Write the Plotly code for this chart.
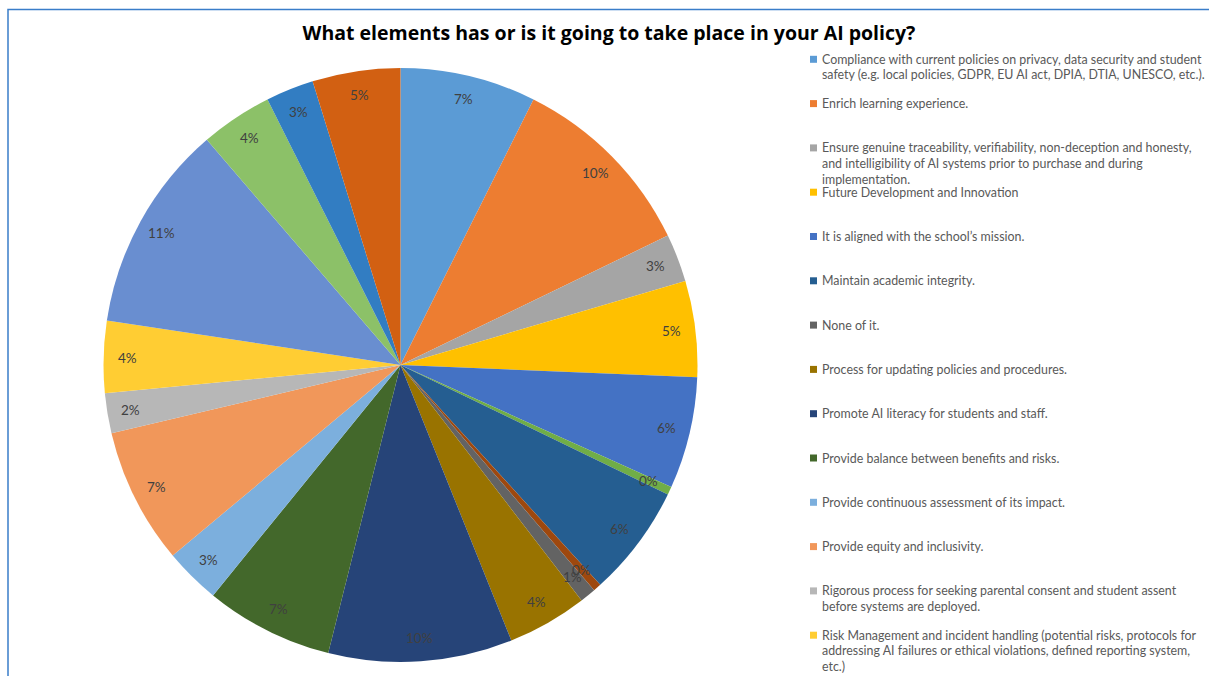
import math
import plotly.graph_objects as go

# Survey responses: elements included (or planned) in the school's AI policy
labels = [
    "Compliance with current policies on privacy, data security and student safety (e.g. local policies, GDPR, EU AI act, DPIA, DTIA, UNESCO, etc.).",
    "Enrich learning experience.",
    "Ensure genuine traceability, verifiability, non-deception and honesty, and intelligibility of AI systems prior to purchase and during implementation.",
    "Future Development and Innovation",
    "It is aligned with the school’s mission.",
    "Other",
    "Maintain academic integrity.",
    "Not sure",
    "None of it.",
    "Process for updating policies and procedures.",
    "Promote AI literacy for students and staff.",
    "Provide balance between benefits and risks.",
    "Provide continuous assessment of its impact.",
    "Provide equity and inclusivity.",
    "Rigorous process for seeking parental consent and student assent before systems are deployed.",
    "Risk Management and incident handling (potential risks, protocols for addressing AI failures or ethical violations, defined reporting system, etc.)",
    "Safeguarding and student wellbeing.",
    "Support and training for teachers.",
    "Transparency with families.",
    "Use of AI tools in assessment.",
]
counts = [17, 24, 6, 12, 14, 1, 14, 1, 2, 10, 23, 16, 7, 17, 5, 9, 26, 9, 6, 11]
colors = [
    "#5B9BD5", "#ED7D31", "#A5A5A5", "#FFC000", "#4472C4", "#70AD47",
    "#255E91", "#9E480E", "#636363", "#997300", "#264478", "#43682B",
    "#7CAFDD", "#F1975A", "#B7B7B7", "#FFCD33", "#698ED0", "#8CC168",
    "#327DC2", "#D26012",
]

# Legend entries that are shown (index into the series) with their wrapped text
legend_items = [0, 1, 2, 3, 4, 6, 8, 9, 10, 11, 12, 13, 14, 15]
legend_text = [
    ["Compliance with current policies on privacy, data security and student",
     "safety (e.g. local policies, GDPR, EU AI act, DPIA, DTIA, UNESCO, etc.)."],
    ["Enrich learning experience."],
    ["Ensure genuine traceability, verifiability, non-deception and honesty,",
     "and intelligibility of AI systems prior to purchase and during",
     "implementation."],
    ["Future Development and Innovation"],
    ["It is aligned with the school’s mission."],
    ["Maintain academic integrity."],
    ["None of it."],
    ["Process for updating policies and procedures."],
    ["Promote AI literacy for students and staff."],
    ["Provide balance between benefits and risks."],
    ["Provide continuous assessment of its impact."],
    ["Provide equity and inclusivity."],
    ["Rigorous process for seeking parental consent and student assent",
     "before systems are deployed."],
    ["Risk Management and incident handling (potential risks, protocols for",
     "addressing AI failures or ethical violations, defined reporting system,",
     "etc.)"],
]

W, H = 1209, 676
FONT = "Lato, 'Open Sans', sans-serif"
TITLE_FONT = "'Open Sans', sans-serif"

total = sum(counts)
pct_text = [f"{round(100 * c / total)}%" for c in counts]

# pie placement (pixels -> paper)
cx, cy, r = 400.5, 365, 297
dom_x = [(cx - r) / W, (cx + r) / W]
dom_y = [1 - (cy + r) / H, 1 - (cy - r) / H]

fig = go.Figure()
fig.add_trace(go.Pie(
    labels=labels, values=counts, sort=False, direction="clockwise",
    rotation=0, marker=dict(colors=colors, line=dict(width=0)),
    textinfo="none", hoverinfo="label+value+percent",
    showlegend=False, domain=dict(x=dom_x, y=dom_y),
))

annotations = []

# data labels near the outer end of each slice (mid-angle of each share)
label_r = 0.92 * r
acc = 0
for c, t in zip(counts, pct_text):
    theta = math.radians((acc + c / 2) / total * 360)
    acc += c
    px = cx + label_r * math.sin(theta)
    py = cy - label_r * math.cos(theta)
    annotations.append(dict(
        text=t, xref="paper", yref="paper", x=px / W, y=1 - py / H,
        xanchor="center", yanchor="middle", showarrow=False,
        font=dict(family=FONT, size=13.5, color="#404040"),
    ))

# custom legend
shapes = []
lx_sq, lx_txt = 813.5, 819.5
y0, step, line_h = 59.3, 44.3, 15.6
for k, (idx, lines) in enumerate(zip(legend_items, legend_text)):
    yc = y0 + k * step
    shapes.append(dict(
        type="rect", xref="paper", yref="paper",
        x0=(lx_sq - 3.5) / W, x1=(lx_sq + 3.5) / W,
        y0=1 - (yc + 3.5) / H, y1=1 - (yc - 3.5) / H,
        fillcolor=colors[idx], line=dict(width=0),
    ))
    for j, t in enumerate(lines):
        annotations.append(dict(
            text=t, xref="paper", yref="paper", x=lx_txt / W,
            y=1 - (yc + j * line_h) / H, xanchor="left", yanchor="middle",
            showarrow=False, font=dict(family=FONT, size=12.4, color="#595959"),
        ))

# chart-area border
shapes.append(dict(
    type="rect", xref="paper", yref="paper",
    x0=8 / W, x1=1.05, y0=-0.05, y1=1 - 9.5 / H,
    line=dict(color="#3A7DC9", width=1.5), fillcolor="rgba(0,0,0,0)",
))

fig.update_layout(
    width=W, height=H,
    margin=dict(l=0, r=0, t=0, b=0),
    paper_bgcolor="white", plot_bgcolor="white",
    title=dict(
        text="<b>What elements has or is it going to take place in your AI policy?</b>",
        x=609 / W, y=1 - 33 / H, xanchor="center", yanchor="middle",
        font=dict(family=TITLE_FONT, size=19.5, color="#000000"),
    ),
    shapes=shapes, annotations=annotations,
)

fig.write_html("out.html")
